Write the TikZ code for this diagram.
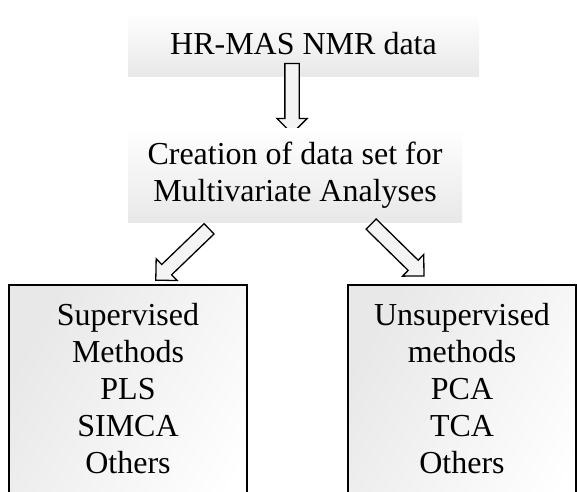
\documentclass[tikz,border=0pt]{standalone}
\usepackage{fontspec}
\setmainfont{Liberation Serif}
\usetikzlibrary{shapes.arrows,positioning}
\tikzset{
  blk/.style={align=center, font=\fontsize{32}{37}\selectfont, inner sep=0pt, top color=white, bottom color=#1},
  blk/.default=boxgray,
  box/.style={blk, draw, line width=1.5pt, left color=boxgray, right color=white, shading angle=60, inner xsep=0pt, inner ysep=19pt, text depth=60pt, anchor=north},
  fat/.style={single arrow, draw, line width=1.3pt, fill=arrgray, inner xsep=0pt, inner ysep=6.5pt, single arrow head extend=8pt, minimum height=#1, sloped, allow upside down},
}
\definecolor{boxgray}{HTML}{E8E8E8}
\definecolor{arrgray}{HTML}{F4F4F4}

\begin{document}
\begin{tikzpicture}[x=1pt, y=-1pt]
  \useasboundingbox (0,0) rectangle (577,491);
  \clip (0,0) rectangle (577,491);
  \node[blk, minimum width=351pt, minimum height=64pt] (hr) at (303.5,44) {HR-MAS NMR data};
  \coordinate (t0) at (292,60);
  \coordinate (h0) at (292,130);
  \path (t0) -- node[fat=70pt] {} (h0);
  \node[blk, minimum width=334pt, minimum height=94pt] (ds) at (295,175) {Creation of data set for\\Multivariate Analyses};
  \coordinate (t1) at (212,226);
  \coordinate (h1) at (158,278);
  \coordinate (t2) at (369,222);
  \coordinate (h2) at (421,273);
  \foreach \u/\v in {t1/h1,t2/h2} \path (\u) -- node[fat=74pt] {} (\v);
  \node[box, minimum width=238pt] (sup) at (128,284) {Supervised\\Methods\\PLS\\SIMCA\\Others};
  \node[box, minimum width=228pt] (uns) at (462,284) {Unsupervised\\methods\\PCA\\TCA\\Others};
\end{tikzpicture}
\end{document}
